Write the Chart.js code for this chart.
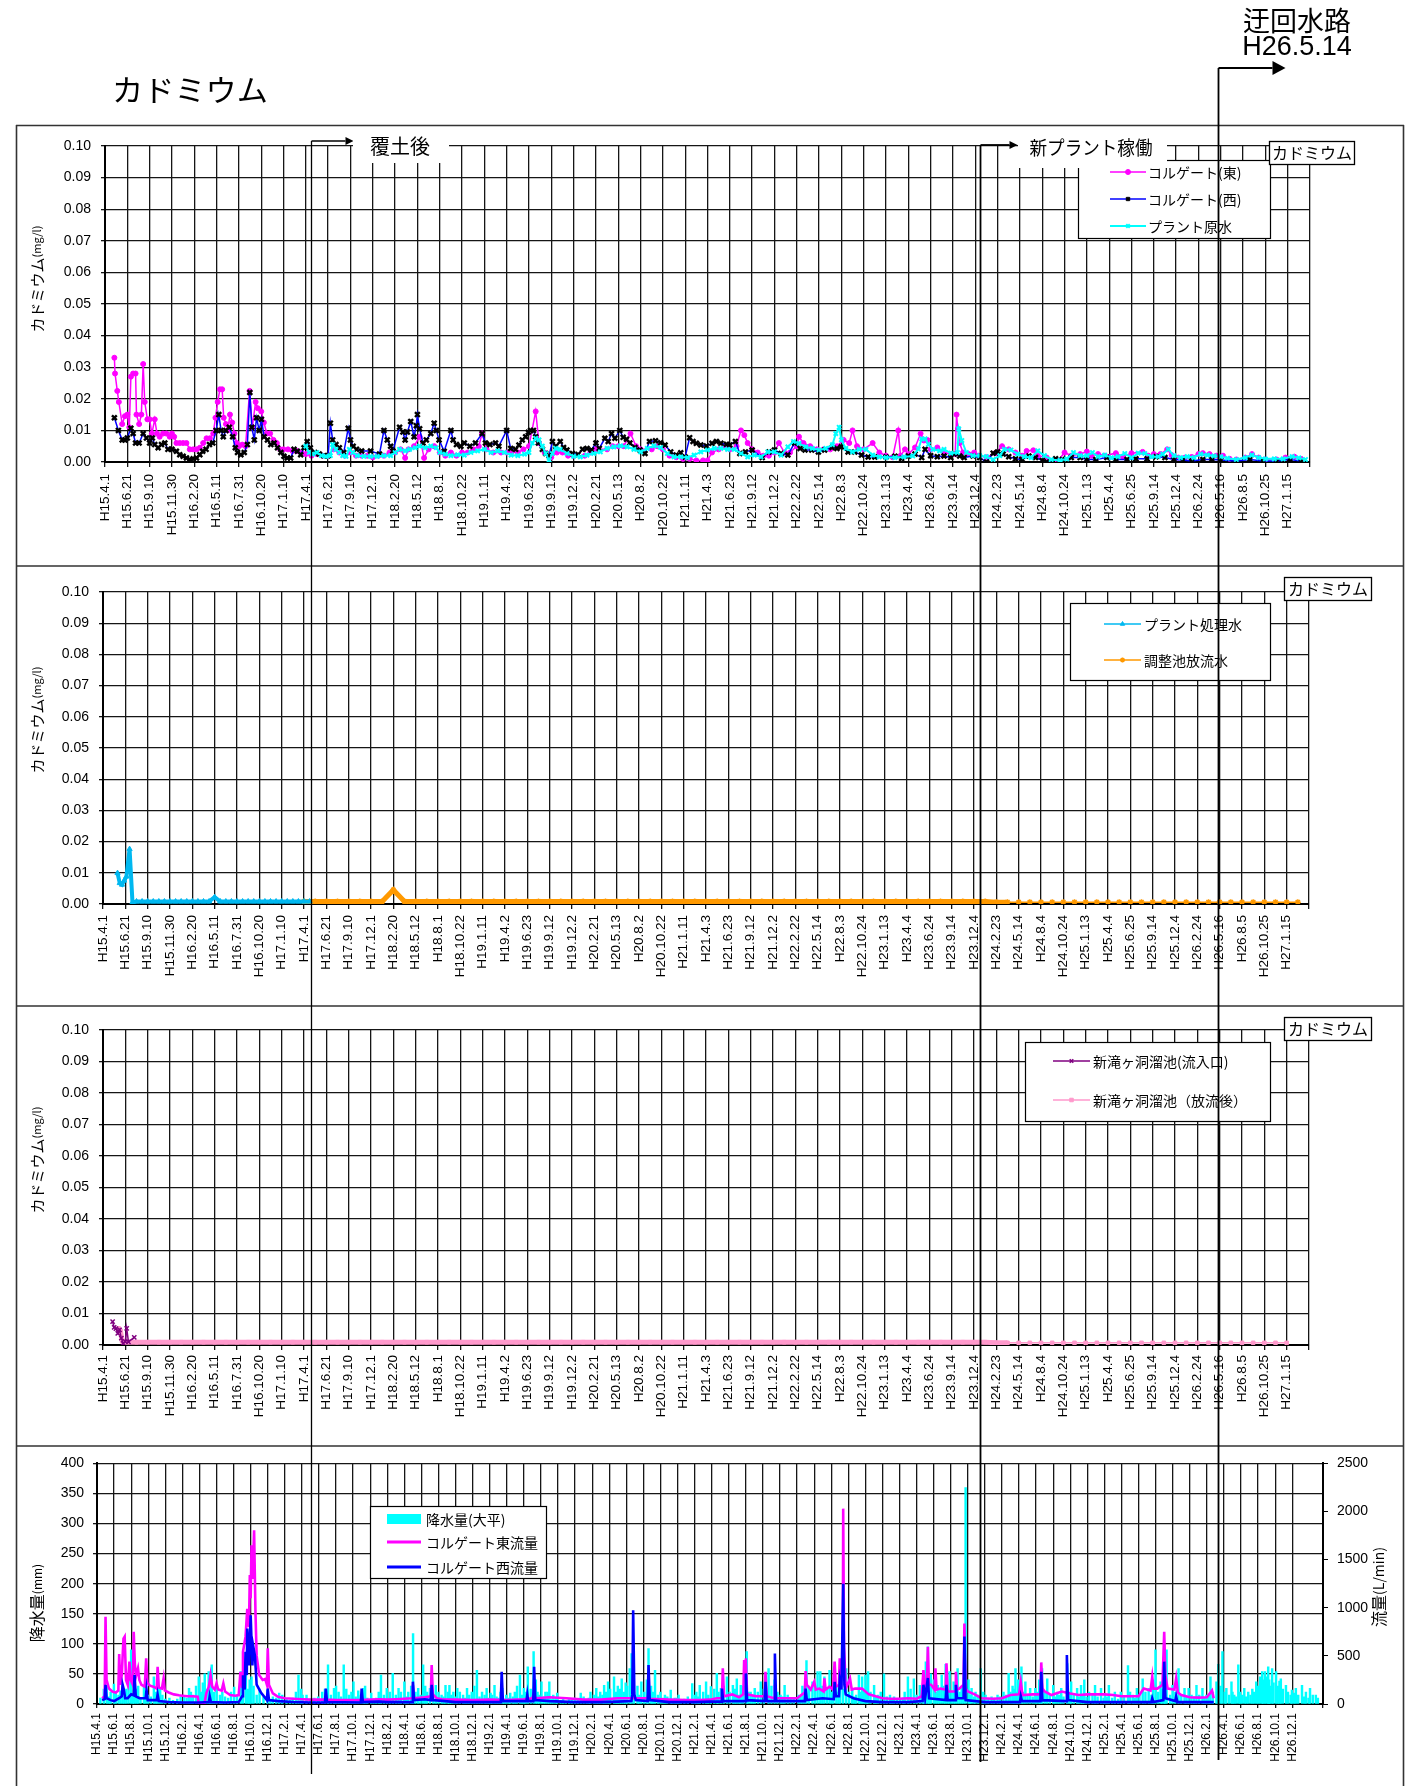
<!DOCTYPE html>
<html lang="ja">
<head>
<meta charset="utf-8">
<title>カドミウム</title>
<script src="https://cdn.jsdelivr.net/npm/chart.js@4.4.1/dist/chart.umd.min.js"></script>
<style>
html,body{margin:0;padding:0;background:#fff;}
#page{position:relative;width:1421px;height:1786px;overflow:hidden;background:#fff;}
#page canvas{position:absolute;left:0;}
#overlay{position:absolute;left:0;top:0;pointer-events:none;}
#overlay text{font-family:'Noto Sans CJK JP',sans-serif;fill:#000;}
</style>
</head>
<body>
<div id="page">
<canvas id="cd1" width="1421" height="440" style="top:126px"></canvas>
<canvas id="cd2" width="1421" height="440" style="top:566px"></canvas>
<canvas id="cd3" width="1421" height="440" style="top:1006px"></canvas>
<canvas id="flow" width="1421" height="340" style="top:1446px"></canvas>
<svg id="overlay" width="1421" height="1786" viewBox="0 0 1421 1786">
  <path d="M16 125.5H1404M16 566H1404M16 1006H1404M16 1446H1404M16.5 125V1786M1403.5 125V1786" stroke="#333" stroke-width="1.6" fill="none"/>
  <text x="112" y="101" font-size="30" textLength="156" lengthAdjust="spacingAndGlyphs">カドミウム</text>
  <text x="1297" y="31" font-size="27" text-anchor="middle">迂回水路</text>
  <text x="1297" y="55" font-size="27" text-anchor="middle" style="font-family:'Liberation Sans',sans-serif">H26.5.14</text>
  <g id="marks"></g>
  <rect x="353" y="131" width="96" height="32" fill="#fff"/>
  <text x="400" y="154" font-size="20" text-anchor="middle">覆土後</text>
  <rect x="1018" y="131" width="149" height="37" fill="#fff"/>
  <text x="1091" y="155" font-size="19" text-anchor="middle" textLength="123" lengthAdjust="spacingAndGlyphs">新プラント稼働</text>
  <rect x="1269.5" y="141.5" width="85" height="23" fill="#fff" stroke="#000" stroke-width="1.3"/>
  <text x="1312" y="159" font-size="16" text-anchor="middle">カドミウム</text>
  <rect x="1284.5" y="577.5" width="87" height="23" fill="#fff" stroke="#000" stroke-width="1.3"/>
  <text x="1328" y="595" font-size="16" text-anchor="middle">カドミウム</text>
  <rect x="1284.5" y="1017.5" width="87" height="23" fill="#fff" stroke="#000" stroke-width="1.3"/>
  <text x="1328" y="1035" font-size="16" text-anchor="middle">カドミウム</text>
  <text transform="translate(36 279) rotate(-90)" text-anchor="middle" dominant-baseline="central" font-size="15">カドミウム<tspan font-size="11">(mg/l)</tspan></text>
  <text transform="translate(36 720) rotate(-90)" text-anchor="middle" dominant-baseline="central" font-size="15">カドミウム<tspan font-size="11">(mg/l)</tspan></text>
  <text transform="translate(36 1160) rotate(-90)" text-anchor="middle" dominant-baseline="central" font-size="15">カドミウム<tspan font-size="11">(mg/l)</tspan></text>
  <text transform="translate(36 1603) rotate(-90)" text-anchor="middle" dominant-baseline="central" font-size="16">降水量<tspan font-size="12">(mm)</tspan></text>
  <text transform="translate(1378 1587) rotate(-90)" text-anchor="middle" dominant-baseline="central" font-size="16">流量<tspan font-size="14">(L/min)</tspan></text>
</svg>
</div>
<script>
// ---- axis labels -------------------------------------------------------
const cdDates = ['H15.4.1','H15.6.21','H15.9.10','H15.11.30','H16.2.20','H16.5.11','H16.7.31','H16.10.20','H17.1.10','H17.4.1',
  'H17.6.21','H17.9.10','H17.12.1','H18.2.20','H18.5.12','H18.8.1','H18.10.22','H19.1.11','H19.4.2','H19.6.23',
  'H19.9.12','H19.12.2','H20.2.21','H20.5.13','H20.8.2','H20.10.22','H21.1.11','H21.4.3','H21.6.23','H21.9.12',
  'H21.12.2','H22.2.22','H22.5.14','H22.8.3','H22.10.24','H23.1.13','H23.4.4','H23.6.24','H23.9.14','H23.12.4',
  'H24.2.23','H24.5.14','H24.8.4','H24.10.24','H25.1.13','H25.4.4','H25.6.25','H25.9.14','H25.12.4','H26.2.24',
  'H26.5.16','H26.8.5','H26.10.25','H27.1.15'];
const flowDates = ['H15.4.1','H15.6.1','H15.8.1','H15.10.1','H15.12.1',
  'H16.2.1','H16.4.1','H16.6.1','H16.8.1','H16.10.1','H16.12.1',
  'H17.2.1','H17.4.1','H17.6.1','H17.8.1','H17.10.1','H17.12.1',
  'H18.2.1','H18.4.1','H18.6.1','H18.8.1','H18.10.1','H18.12.1',
  'H19.2.1','H19.4.1','H19.6.1','H19.8.1','H19.10.1','H19.12.1',
  'H20.2.1','H20.4.1','H20.6.1','H20.8.1','H20.10.1','H20.12.1',
  'H21.2.1','H21.4.1','H21.6.1','H21.8.1','H21.10.1','H21.12.1',
  'H22.2.1','H22.4.1','H22.6.1','H22.8.1','H22.10.1','H22.12.1',
  'H23.2.1','H23.4.1','H23.6.1','H23.8.1','H23.10.1','H23.12.1',
  'H24.2.1','H24.4.1','H24.6.1','H24.8.1','H24.10.1','H24.12.1',
  'H25.2.1','H25.4.1','H25.6.1','H25.8.1','H25.10.1','H25.12.1',
  'H26.2.1','H26.4.1','H26.6.1','H26.8.1','H26.10.1','H26.12.1',
  'H27.2.1'];
const cdTicks = [0,0.01,0.02,0.03,0.04,0.05,0.06,0.07,0.08,0.09,0.10];

// event dates, in positions along the cadmium date axis
const eventFudo = 9.22;   // 覆土後
const eventPlant = 39.22; // 新プラント稼働
const eventBypass = 49.89;// 迂回水路 H26.5.14

// ---- cadmium: corrugate east / west, plant raw water ([axis position, mg/l]) ----
const eastCd = [[0.42,0.033],[0.45,0.028],[0.55,0.0225],[0.62,0.019],[0.77,0.012],[0.89,0.0145],[1.0,0.015],[1.09,0.011],
  [1.16,0.027],[1.26,0.028],[1.37,0.028],[1.41,0.015],[1.53,0.012],[1.63,0.015],[1.71,0.031],[1.78,0.019],[1.9,0.0135],
  [2.0,0.0135],[2.1,0.009],[2.23,0.0135],[2.33,0.009],[2.45,0.008],[2.6,0.009],[2.75,0.009],[2.9,0.008],[3.0,0.009],
  [3.1,0.008],[3.2,0.006],[3.35,0.006],[3.5,0.006],[3.65,0.006],[3.8,0.004],[3.95,0.004],[4.1,0.004],[4.25,0.0045],
  [4.4,0.006],[4.55,0.0075],[4.7,0.0075],[4.85,0.009],[4.95,0.014],[5.05,0.019],[5.15,0.023],[5.25,0.023],[5.32,0.014],
  [5.42,0.012],[5.5,0.010],[5.6,0.015],[5.7,0.0125],[5.8,0.009],[5.9,0.006],[6.0,0.005],[6.15,0.0055],[6.3,0.005],
  [6.48,0.0225],[6.6,0.011],[6.75,0.019],[6.85,0.017],[7.0,0.016],[7.12,0.0125],[7.25,0.009],[7.4,0.009],[7.55,0.007],
  [7.7,0.006],[7.85,0.004],[8.0,0.004],[8.2,0.004],[8.4,0.0035],[8.6,0.0035],[8.8,0.003],[9.0,0.0025],
  [9.25,0.002],[9.5,0.0025],[9.75,0.002],[10.0,0.002],[10.25,0.004],[10.5,0.003],[10.75,0.002],[11.0,0.003],[11.25,0.002],
  [11.5,0.002],[11.75,0.002],[12.0,0.0015],[12.25,0.002],[12.5,0.002],[12.75,0.003],[13.0,0.003],[13.25,0.004],[13.45,0.0013],
  [13.6,0.004],[13.85,0.005],[14.1,0.008],[14.3,0.0013],[14.5,0.004],[14.75,0.005],[15.0,0.003],[15.25,0.002],[15.5,0.003],
  [15.75,0.002],[16.0,0.003],[16.25,0.003],[16.5,0.004],[16.75,0.005],[16.9,0.009],[17.1,0.004],[17.4,0.003],[17.75,0.003],
  [18.0,0.003],[18.2,0.003],[18.5,0.003],[18.75,0.004],[19.0,0.005],[19.3,0.016],[19.45,0.006],[19.7,0.003],[20.0,0.0015],
  [20.25,0.003],[20.5,0.003],[20.75,0.002],[21.0,0.002],[21.5,0.002],[21.75,0.003],[22.0,0.004],[22.5,0.004],[22.75,0.005],
  [23.0,0.005],[23.25,0.005],[23.55,0.009],[23.8,0.005],[24.0,0.004],[24.5,0.004],[24.75,0.005],[25.0,0.004],[25.3,0.002],
  [25.6,0.0015],[25.9,0.001],[26.2,0.001],[26.5,0.0005],[26.8,0.0005],[27.0,0.0005],[27.2,0.003],[27.5,0.004],[27.75,0.005],
  [28.0,0.004],[28.3,0.005],[28.5,0.010],[28.65,0.0085],[28.8,0.006],[29.0,0.004],[29.25,0.003],[29.5,0.002],[29.75,0.002],
  [30.0,0.003],[30.2,0.006],[30.45,0.003],[30.7,0.003],[31.0,0.005],[31.1,0.008],[31.3,0.006],[31.6,0.005],[31.9,0.004],
  [32.2,0.004],[32.5,0.004],[32.8,0.005],[33.1,0.007],[33.35,0.006],[33.5,0.010],[33.7,0.005],[34.0,0.004],[34.4,0.006],
  [34.7,0.003],[35.0,0.002],[35.3,0.0015],[35.55,0.010],[35.65,0.002],[35.85,0.004],[36.0,0.0025],[36.3,0.0046],[36.55,0.009],
  [36.7,0.0068],[36.85,0.007],[37.0,0.004],[37.3,0.0046],[37.6,0.003],[37.9,0.0025],[38.1,0.0025],[38.16,0.015],[38.22,0.0105],
  [38.3,0.006],[38.45,0.003],[38.7,0.0025],[38.95,0.003],[39.15,0.002],[39.5,0.0015],[39.9,0.0028],[40.2,0.005],[40.5,0.004],
  [40.8,0.003],[41.1,0.002],[41.3,0.0035],[41.6,0.0037],[41.8,0.002],[42.2,0.0014],[42.7,0.0003],[43.0,0.003],[43.3,0.002],
  [43.7,0.0025],[44.0,0.0033],[44.2,0.002],[44.5,0.0025],[44.8,0.002],[45.3,0.0028],[45.6,0.0017],[46.0,0.0028],[46.5,0.0032],
  [46.75,0.002],[47.0,0.0025],[47.3,0.0025],[47.6,0.004],[47.8,0.0022],[48.1,0.0014],[48.4,0.0014],[48.7,0.0016],[49.0,0.0025],
  [49.2,0.0028],[49.5,0.0025],[49.8,0.002],[50.1,0.002],[50.4,0.001],[50.7,0.0008],[51.1,0.0014],[51.4,0.0025],[51.7,0.0014],
  [52.0,0.0008],[52.5,0.0008],[52.9,0.0014],[53.3,0.0017],[53.6,0.001]];
const westCd = [[0.42,0.014],[0.6,0.010],[0.77,0.007],[0.89,0.007],[1.0,0.0076],[1.16,0.0107],[1.26,0.009],[1.37,0.006],
  [1.53,0.006],[1.71,0.009],[1.86,0.0076],[2.0,0.006],[2.12,0.0076],[2.23,0.0055],[2.38,0.0045],[2.53,0.0055],[2.68,0.006],
  [2.82,0.004],[3.0,0.004],[3.2,0.0034],[3.35,0.0023],[3.5,0.0018],[3.65,0.0013],[3.8,0.0008],[3.95,0.001],[4.1,0.0013],
  [4.25,0.0023],[4.38,0.0034],[4.53,0.004],[4.68,0.0055],[4.83,0.006],[4.98,0.010],[5.1,0.015],[5.2,0.010],[5.3,0.008],
  [5.42,0.010],[5.57,0.011],[5.72,0.008],[5.84,0.0045],[5.94,0.003],[6.09,0.0023],[6.24,0.003],[6.38,0.0055],[6.49,0.022],
  [6.58,0.011],[6.69,0.007],[6.79,0.014],[6.91,0.010],[7.01,0.0135],[7.13,0.008],[7.28,0.007],[7.43,0.0055],[7.58,0.006],
  [7.73,0.0045],[7.88,0.003],[8.02,0.0018],[8.17,0.0013],[8.32,0.0013],[8.47,0.004],[8.62,0.0034],[8.77,0.0023],[8.92,0.0045],
  [9.06,0.0065],[9.2,0.0045],[9.4,0.003],[9.6,0.0025],[9.8,0.002],[10.0,0.002],[10.1,0.0123],[10.2,0.007],[10.35,0.0055],
  [10.5,0.0045],[10.7,0.003],[10.9,0.0107],[11.0,0.007],[11.12,0.005],[11.27,0.004],[11.5,0.0035],[11.9,0.0035],[12.3,0.0025],
  [12.5,0.010],[12.65,0.007],[12.8,0.005],[12.9,0.0035],[13.2,0.011],[13.35,0.0095],[13.45,0.007],[13.55,0.0095],[13.7,0.0128],
  [13.85,0.008],[13.95,0.0115],[14.0,0.015],[14.1,0.0105],[14.25,0.006],[14.4,0.007],[14.6,0.009],[14.75,0.0123],[14.85,0.010],
  [14.97,0.007],[15.2,0.0034],[15.5,0.010],[15.6,0.007],[15.75,0.0055],[15.95,0.005],[16.1,0.006],[16.35,0.005],[16.6,0.006],
  [16.9,0.009],[17.05,0.006],[17.25,0.0055],[17.5,0.006],[17.65,0.005],[18.0,0.010],[18.18,0.0043],[18.4,0.004],[18.55,0.0054],
  [18.7,0.007],[18.85,0.008],[18.97,0.0094],[19.07,0.010],[19.2,0.010],[19.3,0.008],[19.42,0.006],[19.6,0.004],[19.75,0.0027],
  [19.9,0.002],[20.05,0.0065],[20.2,0.005],[20.4,0.0065],[20.55,0.0046],[20.7,0.0038],[20.95,0.0027],[21.2,0.0024],[21.4,0.004],
  [21.6,0.0043],[21.8,0.0038],[22.0,0.006],[22.15,0.0043],[22.4,0.0075],[22.55,0.0065],[22.7,0.009],[22.85,0.0075],[23.07,0.010],
  [23.22,0.0078],[23.37,0.0072],[23.52,0.006],[23.75,0.0046],[23.97,0.0038],[24.2,0.0027],[24.4,0.0065],[24.67,0.0067],
  [24.9,0.0061],[25.1,0.0054],[25.35,0.0032],[25.6,0.0022],[25.8,0.0029],[26.0,0.0016],[26.2,0.0077],[26.35,0.0065],
  [26.5,0.0059],[26.7,0.0054],[26.95,0.0051],[27.2,0.0059],[27.4,0.0065],[27.6,0.0059],[27.85,0.0056],[28.0,0.0054],
  [28.25,0.0065],[28.45,0.0027],[28.7,0.0032],[29.0,0.0038],[29.45,0.0014],[29.75,0.0032],[30.0,0.0038],[30.3,0.0027],
  [30.6,0.0022],[30.9,0.006],[31.15,0.0043],[31.37,0.0038],[31.67,0.0038],[31.97,0.0032],[32.25,0.0038],[32.58,0.0046],
  [32.8,0.0043],[33.0,0.0048],[33.3,0.0032],[33.6,0.0032],[33.9,0.0022],[34.2,0.0016],[34.5,0.0016],[35.0,0.0016],[35.4,0.0018],
  [35.7,0.0011],[36.0,0.0019],[36.3,0.0025],[36.6,0.0014],[36.75,0.004],[37.0,0.002],[37.3,0.0017],[37.6,0.0019],[37.9,0.0014],
  [38.05,0.0025],[38.3,0.0019],[38.5,0.0014],[38.9,0.0019],[39.2,0.0014],[39.5,0.0],[39.8,0.0028],[40.0,0.0032],[40.25,0.0025],
  [40.5,0.0017],[40.8,0.001],[41.1,0.0008],[41.4,0.0019],[41.7,0.0014],[42.0,0.0005],[42.2,0.0],[42.6,0.001],[42.9,0.0008],
  [43.3,0.0014],[43.7,0.0014],[44.0,0.0008],[44.4,0.0008],[44.9,0.0014],[45.3,0.0008],[45.8,0.0008],[46.2,0.001],[46.7,0.001],
  [47.1,0.0017],[47.5,0.0014],[47.9,0.0008],[48.3,0.0006],[48.7,0.0003],[49.2,0.0008],[49.6,0.0008],[50.0,0.0006],[50.7,0.0003],
  [51.3,0.0008],[51.9,0.0003],[52.5,0.0003],[53.1,0.0008],[53.6,0.0003]];
const rawCd = [[9.0,0.005],[9.15,0.003],[9.3,0.0025],[9.5,0.003],[9.7,0.002],[9.9,0.0018],[10.1,0.002],[10.2,0.0055],
  [10.35,0.004],[10.5,0.003],[10.65,0.002],[10.8,0.0018],[10.95,0.004],[11.1,0.003],[11.3,0.002],[11.6,0.0018],[11.9,0.0018],
  [12.2,0.0018],[12.5,0.002],[12.8,0.002],[13.0,0.003],[13.2,0.004],[13.45,0.0035],[13.65,0.004],[13.9,0.0045],[14.1,0.005],
  [14.35,0.0045],[14.6,0.005],[14.85,0.0045],[15.0,0.003],[15.25,0.0025],[15.5,0.002],[15.8,0.0023],[16.1,0.0022],[16.4,0.003],
  [16.7,0.0035],[17.0,0.004],[17.3,0.003],[17.6,0.0035],[17.9,0.003],[18.2,0.0022],[18.5,0.002],[18.8,0.0025],[19.0,0.003],
  [19.15,0.006],[19.3,0.0075],[19.45,0.007],[19.6,0.005],[19.75,0.0027],[19.9,0.0005],[20.05,0.0027],[20.2,0.0043],[20.4,0.004],
  [20.7,0.0027],[21.0,0.0018],[21.3,0.0016],[21.6,0.0022],[21.9,0.0027],[22.2,0.0032],[22.5,0.0043],[22.8,0.0048],[23.1,0.0051],
  [23.4,0.0048],[23.7,0.004],[24.0,0.0032],[24.3,0.0043],[24.6,0.0051],[24.9,0.0046],[25.2,0.0027],[25.5,0.0016],[25.8,0.0016],
  [26.1,0.0014],[26.4,0.0022],[26.7,0.0032],[27.0,0.0038],[27.3,0.0043],[27.6,0.0043],[27.9,0.004],[28.2,0.004],[28.5,0.0027],
  [28.8,0.0016],[29.1,0.0022],[29.4,0.0016],[29.7,0.0032],[30.0,0.0032],[30.3,0.0022],[30.6,0.0048],[30.85,0.0065],[31.1,0.0059],
  [31.4,0.0048],[31.7,0.0043],[32.0,0.0038],[32.3,0.0043],[32.6,0.0055],[32.75,0.009],[32.9,0.011],[33.0,0.007],[33.2,0.0043],
  [33.5,0.0032],[33.8,0.004],[34.1,0.004],[34.4,0.0022],[34.7,0.0016],[35.0,0.0014],[35.4,0.0014],[35.8,0.0016],[36.2,0.0019],
  [36.45,0.0041],[36.6,0.0073],[36.75,0.0073],[36.9,0.0056],[37.1,0.004],[37.4,0.0035],[37.6,0.004],[37.9,0.0028],[38.2,0.003],
  [38.26,0.0105],[38.4,0.0068],[38.6,0.003],[38.9,0.002],[39.2,0.002],[39.5,0.0017],[39.8,0.0008],[40.1,0.002],[40.3,0.004],
  [40.6,0.0038],[40.9,0.0025],[41.2,0.0017],[41.5,0.0014],[41.8,0.0035],[42.1,0.002],[42.4,0.0008],[42.8,0.0005],[43.1,0.001],
  [43.4,0.003],[43.7,0.002],[44.0,0.002],[44.25,0.003],[44.5,0.0017],[44.8,0.0022],[45.1,0.0014],[45.4,0.0017],[45.7,0.0027],
  [46.0,0.0014],[46.3,0.0028],[46.6,0.0027],[46.9,0.0017],[47.2,0.0017],[47.4,0.0025],[47.65,0.004],[47.9,0.002],[48.2,0.0014],
  [48.5,0.0017],[48.8,0.0014],[49.1,0.0025],[49.4,0.0022],[49.7,0.0019],[50.0,0.0017],[50.3,0.0012],[50.7,0.0008],[51.1,0.0014],
  [51.4,0.0022],[51.7,0.0014],[52.0,0.001],[52.4,0.001],[52.8,0.001],[53.2,0.0017],[53.5,0.0013],[53.8,0.0008]];

// ---- cadmium: plant treated water, adjustment pond outflow ----
const treatedFirst = [[0.65,0.0099],[0.75,0.0067],[0.85,0.0062],[0.95,0.0075],[1.05,0.0088],[1.19,0.0176],[1.32,0.0005]];
// later results every quarter interval from 1.5 on
const treatedStart = 1.5;
const treatedCd = [0.0008,0.0008,0.0008,0.0008,0.0008,0.0008,0.0008,0.0008,0.0008,0.0008,0.0008,0.0008,0.0008,0.0008,0.0022,0.0008,
  0.0008,0.0008,0.0008,0.0008,0.0008,0.0008,0.0008,0.0008,0.0008,0.0008,0.0008,0.0008,0.0008,0.0008,0.0008,0.0008];
const outflowStart = 9.0;
const outflowCd = [0.0008,0.0008,0.0008,0.0008,0.0008,0.0008,0.0008,0.0008,0.0045,0.0008,0.0008,0.0008,0.0008,0.0008,0.0008,
  0.0008,0.0008,0.0008,0.0008,0.0008,0.0008,0.0008,0.0008,0.0008,0.0008,0.0008,0.0008,0.0008,0.0008,0.0008,0.0008,0.0008,
  0.0008,0.0008,0.0008,0.0008,0.0008,0.0008,0.0008,0.0008,0.0008,0.0008,0.0008,0.0008,0.0008,0.0008,0.0008,0.0008,0.0008,
  0.0008,0.0008,0.0008,0.0008,0.0008,0.0008,0.0008,0.0008,0.0008,0.0008,0.0008,0.0008,0.0008,0.0006,0.0006,0.0006,0.0006,
  0.0006,0.0006,0.0006,0.0006,0.0006,0.0006,0.0006,0.0006,0.0006,0.0006,0.0006,0.0006,0.0006,0.0006,0.0006,0.0006,0.0006,
  0.0006,0.0006,0.0006,0.0006,0.0006,0.0006,0.0006];

// ---- cadmium: 新滝ヶ洞溜池 inlet / after release ----
const inletCd = [[0.43,0.0074],[0.5,0.0056],[0.58,0.0052],[0.66,0.0037],[0.74,0.0048],[0.82,0.0022],[0.9,0.0005],[1.0,0.0011],
  [1.06,0.0053],[1.14,0.001],[1.4,0.0024]];
const releaseFirst = [[0.7,0.0053],[0.78,0.0045],[0.86,0.0012]];
const releaseStart = 1.0;
const releaseCd = [0.0009,0.0009,0.0009,0.0009,0.0009,0.0009,0.0009,0.0009,0.0009,0.0009,0.0009,0.0009,0.0009,0.0009,0.0009,
  0.0009,0.0009,0.0009,0.0009,0.0009,0.0009,0.0009,0.0009,0.0009,0.0009,0.0009,0.0009,0.0009,0.0009,0.0009,0.0009,0.0009,
  0.0009,0.0009,0.0009,0.0009,0.0009,0.0009,0.0009,0.0009,0.0009,0.0009,0.0009,0.0009,0.0009,0.0009,0.0009,0.0009,0.0009,
  0.0009,0.0009,0.0009,0.0009,0.0009,0.0009,0.0009,0.0009,0.0009,0.0009,0.0009,0.0009,0.0009,0.0009,0.0009,0.0009,0.0009,
  0.0009,0.0009,0.0009,0.0009,0.0009,0.0009,0.0009,0.0009,0.0009,0.0009,0.0009,0.0009,0.0007,0.0007,0.0007,0.0007,0.0007,
  0.0007,0.0007,0.0007,0.0007,0.0007,0.0007,0.0007,0.0007,0.0007,0.0007,0.0007,0.0007,0.0007,0.0007,0.0007,0.0007,0.0007,
  0.0007,0.0007,0.0007,0.0007,0.0007];

// ---- rainfall (mm) and corrugate flows (L/min), positions along the bimonthly axis ----
const rainMm = [[0.2,10],[0.4,25],[0.57,31],[0.7,12],[0.8,20],[0.99,33],[1.1,18],[1.26,15],[1.37,22],[1.49,31],[1.6,12],[1.72,25],
  [1.85,40],[2.0,90],[2.1,15],[2.18,20],[2.3,25],[2.41,30],[2.55,10],[2.75,28],[2.85,20],[2.98,15],[3.15,12],[3.33,45],[3.45,20],
  [3.56,37],[3.7,25],[3.83,15],[4.0,8],[4.24,10],[4.45,6],[4.7,8],[4.9,12],[5.1,12],[5.25,10],[5.39,26],[5.5,20],[5.62,15],
  [5.8,30],[5.96,45],[6.1,20],[6.2,35],[6.31,50],[6.42,25],[6.54,54],[6.62,40],[6.72,65],[6.85,20],[7.0,31],[7.2,15],[7.34,20],
  [7.5,12],[7.68,10],[7.85,20],[8.03,28],[8.2,15],[8.42,54],[8.55,30],[8.72,55],[8.85,25],[8.94,40],[9.05,45],[9.17,30],[9.35,15],
  [9.52,25],[9.75,12],[9.98,23],[10.15,8],[10.3,12],[10.5,10],[10.67,18],[10.85,15],[11.1,8],[11.3,6],[11.47,10],[11.65,20],
  [11.8,48],[11.95,25],[12.04,15],[12.27,15],[12.5,8],[12.73,10],[12.95,12],[13.19,20],[13.35,25],[13.53,65],[13.7,15],[13.88,26],
  [14.0,30],[14.15,20],[14.3,12],[14.45,65],[14.6,25],[14.75,15],[14.9,20],[15.02,37],[15.15,12],[15.3,22],[15.45,15],[15.6,26],
  [15.7,30],[15.83,10],[16.06,18],[16.2,8],[16.35,10],[16.5,20],[16.63,48],[16.8,15],[16.97,26],[17.15,20],[17.32,51],[17.5,15],
  [17.66,26],[17.8,20],[18.0,37],[18.1,12],[18.23,20],[18.4,30],[18.51,117],[18.65,20],[18.81,26],[18.95,15],[19.1,65],[19.22,30],
  [19.33,20],[19.5,26],[19.7,15],[19.84,31],[20.0,20],[20.18,15],[20.3,12],[20.41,31],[20.55,20],[20.64,31],[20.75,15],[20.87,20],
  [21.0,12],[21.1,26],[21.25,20],[21.44,15],[21.55,10],[21.67,26],[21.8,15],[21.95,20],[22.1,30],[22.25,56],[22.4,12],[22.55,20],
  [22.7,15],[22.82,26],[22.95,10],[23.05,18],[23.15,15],[23.28,31],[23.4,12],[23.51,10],[23.63,20],[23.74,26],[23.85,8],[23.97,15],
  [24.1,10],[24.2,18],[24.35,12],[24.47,20],[24.6,30],[24.77,48],[24.9,15],[25.0,26],[25.1,20],[25.23,62],[25.4,25],[25.57,87],
  [25.7,40],[25.8,20],[25.9,15],[26.03,37],[26.15,12],[26.26,20],[26.38,20],[26.49,37],[26.6,8],[26.72,15],[26.85,10],[26.95,18],
  [27.15,6],[27.3,10],[27.45,5],[27.64,8],[27.8,6],[27.98,10],[28.15,8],[28.33,18],[28.5,12],[28.67,8],[28.8,10],[28.9,20],
  [29.1,15],[29.24,26],[29.35,12],[29.47,20],[29.6,15],[29.7,31],[29.8,20],[29.93,37],[30.05,25],[30.28,45],[30.4,20],[30.5,30],
  [30.62,25],[30.73,42],[30.85,20],[30.96,35],[31.05,30],[31.2,59],[31.31,84],[31.45,20],[31.65,30],[31.75,15],[31.88,37],
  [32.05,20],[32.2,40],[32.3,92],[32.45,30],[32.55,20],[32.68,56],[32.85,15],[33.0,20],[33.13,10],[33.26,15],[33.4,12],[33.6,23],
  [33.7,8],[33.83,10],[33.95,10],[34.06,15],[34.2,6],[34.4,8],[34.6,12],[34.86,34],[35.0,15],[35.1,20],[35.2,12],[35.3,31],
  [35.5,20],[35.67,37],[35.8,15],[35.95,29],[36.15,25],[36.3,51],[36.4,20],[36.54,26],[36.7,30],[36.89,45],[37.05,20],[37.24,31],
  [37.35,25],[37.47,42],[37.6,15],[37.7,31],[37.85,30],[38.05,87],[38.15,20],[38.28,20],[38.4,15],[38.52,26],[38.7,20],[38.87,37],
  [39.05,25],[39.33,59],[39.5,30],[39.68,40],[39.85,20],[40.03,15],[40.15,12],[40.27,31],[40.45,15],[40.62,10],[40.8,8],[41.08,15],
  [41.2,12],[41.31,30],[41.43,25],[41.55,72],[41.7,30],[41.9,37],[42.05,30],[42.2,54],[42.36,54],[42.48,30],[42.6,45],[42.75,25],
  [42.9,56],[43.02,20],[43.13,25],[43.3,31],[43.42,20],[43.53,31],[43.7,25],[43.88,59],[44.05,20],[44.23,26],[44.35,12],[44.46,15],
  [44.62,48],[44.7,20],[44.81,45],[44.9,25],[45.0,48],[45.08,30],[45.16,54],[45.3,20],[45.51,31],[45.62,12],[45.74,15],[45.9,20],
  [46.09,50],[46.25,12],[46.44,15],[46.55,8],[46.68,12],[46.85,6],[47.03,8],[47.2,10],[47.3,20],[47.49,45],[47.65,25],[47.84,42],
  [48.0,15],[48.19,31],[48.35,30],[48.45,20],[48.54,70],[48.66,95],[48.75,30],[48.83,50],[49.0,40],[49.12,20],[49.24,31],[49.35,25],
  [49.47,48],[49.6,30],[49.7,66],[49.82,25],[49.93,54],[50.05,20],[50.17,37],[50.28,25],[50.4,59],[50.52,20],[50.64,30],[50.75,20],
  [50.87,360],[51.04,40],[51.12,15],[51.22,26],[51.35,12],[51.45,20],[51.6,15],[51.76,59],[51.9,20],[52.04,15],[52.2,8],[52.39,12],
  [52.55,10],[52.74,15],[52.9,12],[53.09,20],[53.25,15],[53.39,51],[53.5,20],[53.62,30],[53.7,25],[53.79,59],[53.87,20],[53.95,40],
  [54.05,30],[54.14,62],[54.25,20],[54.37,37],[54.5,15],[54.65,26],[54.8,12],[54.95,26],[55.05,20],[55.18,40],[55.25,25],[55.35,59],
  [55.5,20],[55.65,42],[55.8,15],[56.0,31],[56.1,12],[56.23,20],[56.35,15],[56.47,26],[56.6,12],[56.82,67],[56.95,20],[57.05,37],
  [57.2,15],[57.4,26],[57.5,12],[57.63,31],[57.72,15],[57.82,40],[57.95,12],[58.1,20],[58.3,15],[58.45,31],[58.6,12],[58.8,26],
  [58.95,10],[59.03,15],[59.15,12],[59.26,31],[59.45,10],[59.61,20],[59.8,8],[59.96,20],[60.15,12],[60.38,64],[60.5,20],[60.66,15],
  [60.78,10],[60.9,26],[61.05,15],[61.24,42],[61.4,20],[61.59,26],[61.75,15],[61.85,40],[61.99,90],[62.15,20],[62.29,37],[62.38,25],
  [62.48,50],[62.55,30],[62.64,90],[62.85,15],[62.99,31],[63.15,20],[63.34,59],[63.5,15],[63.69,26],[63.8,12],[63.93,26],[64.1,15],
  [64.25,12],[64.39,31],[64.55,15],[64.74,26],[64.85,10],[64.97,15],[65.1,15],[65.21,45],[65.35,20],[65.56,37],[65.67,66],[65.8,30],
  [65.91,87],[66.05,20],[66.14,26],[66.3,15],[66.44,37],[66.5,20],[66.6,15],[66.7,12],[66.84,65],[66.95,20],[67.05,15],[67.19,26],
  [67.3,12],[67.42,20],[67.55,15],[67.66,25],[67.75,20],[67.89,37],[68.0,30],[68.12,45],[68.24,54],[68.3,40],[68.4,54],[68.5,45],
  [68.59,62],[68.65,40],[68.7,30],[68.82,59],[68.9,35],[69.05,54],[69.15,30],[69.25,38],[69.33,42],[69.45,25],[69.63,31],[69.75,20],
  [69.9,15],[69.98,23],[70.1,18],[70.21,26],[70.35,15],[70.57,31],[70.7,12],[70.8,20],[70.95,10],[71.04,26],[71.2,15],[71.38,15],
  [71.5,10]];
const eastFlow = [[0.3,60],[0.45,80],[0.5,906],[0.56,250],[0.7,160],[0.9,130],[1.1,120],[1.25,140],[1.3,520],[1.36,200],[1.45,300],
  [1.55,680],[1.62,700],[1.7,250],[1.8,200],[1.9,440],[1.97,250],[2.1,200],[2.15,750],[2.22,400],[2.3,300],[2.4,370],[2.48,250],
  [2.6,200],[2.8,180],[2.88,474],[2.95,220],[3.1,190],[3.3,180],[3.5,160],[3.55,387],[3.62,170],[3.8,160],[3.9,266],[3.97,140],
  [4.2,120],[4.5,100],[4.8,90],[5.0,86],[5.3,80],[5.6,80],[5.9,76],[5.95,10],[6.3,10],[6.4,110],[6.55,180],[6.65,300],[6.75,180],
  [6.9,150],[7.0,214],[7.1,150],[7.3,140],[7.4,214],[7.5,130],[7.8,93],[8.1,86],[8.3,93],[8.4,335],[8.5,180],[8.55,543],[8.7,700],
  [8.8,990],[8.9,800],[8.95,1340],[9.0,1100],[9.05,1650],[9.12,1300],[9.2,1805],[9.28,960],[9.35,500],[9.5,300],[9.7,250],[9.85,260],
  [9.95,200],[10.0,578],[10.07,200],[10.3,110],[10.6,75],[11.0,60],[11.5,55],[12.0,50],[12.5,45],[13.0,45],[13.35,45],[13.4,90],
  [13.47,45],[14.0,40],[14.5,40],[15.0,40],[15.5,40],[16.0,45],[16.5,50],[17.0,45],[17.5,50],[18.0,55],[18.45,60],[18.5,200],
  [18.56,60],[19.2,70],[19.55,80],[19.6,405],[19.67,100],[19.9,60],[20.2,50],[21.0,45],[22.0,40],[23.0,45],[24.0,40],[25.0,50],
  [25.5,60],[25.6,120],[25.67,60],[26.5,70],[27.5,60],[28.5,45],[29.5,45],[30.5,60],[31.0,60],[31.35,60],[31.4,150],[31.45,60],
  [32.25,60],[32.3,120],[32.35,55],[33.5,45],[34.5,40],[35.3,40],[35.9,45],[36.3,60],[36.6,60],[36.65,370],[36.72,80],[37.2,100],
  [37.6,70],[37.85,100],[37.9,456],[37.97,300],[38.0,474],[38.07,100],[38.6,80],[39.1,80],[39.15,335],[39.22,80],[39.65,60],
  [39.7,200],[39.75,60],[40.5,60],[41.0,60],[41.3,100],[41.45,120],[41.5,342],[41.57,200],[41.8,150],[42.0,230],[42.1,150],
  [42.3,160],[42.55,130],[42.6,266],[42.67,150],[42.9,180],[43.1,150],[43.2,440],[43.27,180],[43.45,200],[43.5,474],[43.6,300],
  [43.68,600],[43.7,2030],[43.75,600],[43.85,160],[44.1,266],[44.2,150],[44.4,160],[44.8,160],[45.2,100],[45.6,80],[46.0,60],
  [46.5,55],[47.0,55],[47.5,60],[48.0,55],[48.3,80],[48.4,353],[48.5,150],[48.6,200],[48.66,595],[48.72,200],[48.85,200],[49.05,150],
  [49.1,370],[49.17,150],[49.4,160],[49.7,150],[49.75,422],[49.82,130],[50.0,130],[50.25,130],[50.3,335],[50.37,150],[50.5,160],
  [50.75,200],[50.8,837],[50.87,160],[51.0,130],[51.4,100],[51.8,60],[52.5,55],[53.0,60],[53.5,93],[54.0,100],[54.1,230],[54.2,93],
  [54.8,100],[55.25,100],[55.3,432],[55.37,160],[55.5,130],[55.9,93],[56.5,130],[57.0,110],[57.5,93],[58.0,100],[58.5,100],
  [59.0,100],[59.5,93],[60.0,80],[60.5,80],[61.0,80],[61.3,160],[61.7,140],[61.8,283],[61.87,160],[62.1,160],[62.4,200],[62.5,750],
  [62.57,300],[62.7,160],[63.1,150],[63.2,266],[63.3,120],[63.5,93],[64.0,70],[64.5,66],[65.0,70],[65.3,140],[65.4,60]];
const westFlow = [[0.3,40],[0.45,50],[0.5,200],[0.56,60],[0.8,40],[1.0,30],[1.3,60],[1.45,80],[1.5,200],[1.57,150],[1.65,60],
  [1.8,60],[2.0,100],[2.15,90],[2.2,300],[2.27,80],[2.5,60],[2.85,60],[2.9,150],[2.97,40],[3.5,40],[3.55,100],[3.62,30],[4.2,20],
  [5.0,15],[6.0,15],[6.55,20],[6.6,80],[6.67,20],[7.5,15],[8.3,20],[8.5,80],[8.55,300],[8.65,150],[8.7,543],[8.77,300],[8.8,785],
  [8.9,400],[9.0,923],[9.05,650],[9.1,400],[9.15,600],[9.25,500],[9.35,200],[9.6,120],[9.95,40],[10.0,160],[10.07,40],[10.6,30],
  [11.5,20],[12.5,15],[13.35,15],[13.4,160],[13.47,20],[15.45,15],[15.5,160],[15.57,20],[16.5,25],[17.0,20],[18.45,20],[18.5,232],
  [18.57,40],[19.2,50],[19.55,40],[19.6,200],[19.67,40],[21.0,20],[22.5,20],[23.65,20],[23.7,335],[23.77,30],[25.15,30],[25.2,100],
  [25.25,30],[25.55,30],[25.6,387],[25.67,40],[26.5,30],[28.0,20],[29.5,20],[30.5,25],[31.3,30],[31.35,100],[31.4,975],[31.47,100],
  [31.55,40],[32.25,30],[32.3,405],[32.37,40],[33.5,20],[35.0,20],[36.0,25],[36.55,25],[36.6,160],[36.67,30],[37.95,30],[38.0,318],
  [38.07,40],[39.1,30],[39.15,230],[39.22,30],[39.65,30],[39.7,525],[39.77,30],[41.45,30],[41.5,160],[41.57,40],[42.5,60],[43.15,50],
  [43.2,230],[43.27,80],[43.45,80],[43.5,250],[43.6,150],[43.7,1250],[43.77,200],[43.85,100],[44.3,60],[45.0,30],[46.0,20],[47.5,20],
  [48.35,30],[48.4,200],[48.5,60],[48.66,270],[48.73,60],[49.7,40],[49.75,200],[49.82,40],[50.25,40],[50.3,200],[50.37,60],
  [50.75,60],[50.8,700],[50.87,40],[52.0,20],[53.5,20],[54.05,20],[54.1,80],[54.17,30],[55.25,30],[55.3,335],[55.37,40],[56.75,30],
  [56.8,508],[56.87,40],[58.0,20],[59.5,20],[61.0,20],[61.75,20],[61.8,60],[61.87,20],[62.45,40],[62.5,440],[62.57,60],[63.15,30],
  [63.2,80],[63.27,20],[65.0,20],[65.4,20]];

// ---- helpers ----
const pts = arr => arr.map(([x, y]) => ({x, y}));
const sampled = (start, step, vals) => vals.map((y, i) => ({x: start + i * step, y}));

Chart.defaults.font.family = "'Liberation Sans', Arial, sans-serif";
Chart.defaults.color = '#000';

// framed legend drawn inside the plot canvas
const boxLegend = {
  id: 'boxLegend',
  afterDraw(chart, args, o) {
    if (!o || !o.items) return;
    const ctx = chart.ctx, dy = o.offsetY;
    ctx.save();
    ctx.fillStyle = '#fff';
    ctx.fillRect(o.x, o.y - dy, o.w, o.h);
    ctx.strokeStyle = '#000';
    ctx.lineWidth = 1.2;
    ctx.strokeRect(o.x + 0.5, o.y - dy + 0.5, o.w, o.h);
    o.items.forEach(it => {
      const ds = chart.data.datasets[it.ds];
      const y = it.y - dy;
      if (ds.type === 'bar') {
        ctx.fillStyle = ds.backgroundColor;
        ctx.fillRect(o.x1, y - 5, o.x2 - o.x1, 10);
      } else {
        ctx.strokeStyle = ds.borderColor;
        ctx.lineWidth = it.lw || ds.borderWidth;
        ctx.beginPath(); ctx.moveTo(o.x1, y); ctx.lineTo(o.x2, y); ctx.stroke();
        if (ds.pointRadius > 0 && Chart.helpers && Chart.helpers.drawPoint) {
          ctx.fillStyle = ds.pointBackgroundColor || ds.borderColor;
          ctx.strokeStyle = ds.pointBorderColor || ds.borderColor;
          ctx.lineWidth = ds.pointBorderWidth || 1;
          Chart.helpers.drawPoint(ctx, {pointStyle: ds.pointStyle, rotation: 0, radius: 2.5,
            borderWidth: ds.pointBorderWidth || 1}, (o.x1 + o.x2) / 2, y);
        }
      }
      ctx.fillStyle = '#000';
      ctx.font = "14px 'Noto Sans CJK JP', sans-serif";
      ctx.textBaseline = 'middle';
      ctx.fillText(it.label, o.tx, y + 1);
    });
    ctx.restore();
  }
};
Chart.register(boxLegend);

function cdChart(id, area, datasets, legend) {
  return new Chart(document.getElementById(id), {
    type: 'line',
    data: {datasets},
    options: {
      responsive: false, animation: false, events: [],
      layout: {padding: {left: 0, right: 1421 - area.right, top: area.top, bottom: 0}},
      plugins: {legend: {display: false}, tooltip: {enabled: false}, boxLegend: legend},
      elements: {line: {tension: 0}},
      scales: {
        x: {type: 'linear', min: 0, max: 54, offset: false,
          afterFit: s => { s.height = area.h - area.bottom; },
          border: {color: '#000', width: 2},
          grid: {color: '#151515', lineWidth: 1.3, tickLength: 5},
          ticks: {stepSize: 1, autoSkip: false, minRotation: 90, maxRotation: 90, padding: area.lp,
            font: {size: 13.5}, callback: v => (Number.isInteger(v) && cdDates[v]) ? cdDates[v] : ''}},
        y: {min: 0, max: 0.1,
          afterFit: s => { s.width = area.left; },
          afterBuildTicks: s => { s.ticks = cdTicks.map(value => ({value})); },
          border: {color: '#000', width: 2},
          grid: {color: '#151515', lineWidth: 1.3, tickLength: 4},
          ticks: {padding: 10, font: {size: 14}, callback: v => v.toFixed(2)}}
      }
    }
  });
}

const lineDs = (label, data, color, extra) => Object.assign({label, data, borderColor: color, backgroundColor: color,
  pointBackgroundColor: color, pointBorderColor: color, borderWidth: 1.5, pointRadius: 2.5, pointBorderWidth: 1}, extra);

const chart1 = cdChart('cd1', {left: 105, right: 1310, top: 20, bottom: 336, h: 440, lp: 7}, [
  lineDs('コルゲート(東)', pts(eastCd), '#FF00FF', {pointStyle: 'circle', order: 3}),
  lineDs('コルゲート(西)', pts(westCd), '#0000FF', {pointStyle: 'crossRot', pointBackgroundColor: '#000', pointBorderColor: '#000',
    pointBorderWidth: 2.4, pointRadius: 3.4, order: 2}),
  lineDs('プラント原水', pts(rawCd), '#00FFFF', {pointStyle: 'crossRot', pointBorderWidth: 2, pointRadius: 3, borderWidth: 2, order: 1})
], {offsetY: 126, x: 1078, y: 160, w: 192, h: 78, x1: 1110, x2: 1146, tx: 1148,
   items: [{ds: 0, label: 'コルゲート(東)', y: 172}, {ds: 1, label: 'コルゲート(西)', y: 199}, {ds: 2, label: 'プラント原水', y: 226}]});

cdChart('cd2', {left: 103, right: 1309, top: 26, bottom: 338, h: 440, lp: 6}, [
  lineDs('プラント処理水', pts(treatedFirst).concat(sampled(treatedStart, 0.25, treatedCd)), '#00B8F0',
    {pointStyle: 'triangle', pointRadius: 3, borderWidth: 4, order: 1}),
  lineDs('調整池放流水', sampled(outflowStart, 0.5, outflowCd), '#FF9900',
    {pointStyle: 'star', pointRadius: 3, pointBorderWidth: 1.5, borderWidth: 5, order: 2,
     segment: {borderWidth: c => c.p0.parsed.x >= 40.5 ? 1.5 : 5}})
], {offsetY: 566, x: 1070, y: 603, w: 200, h: 77, x1: 1104, x2: 1141, tx: 1144,
   items: [{ds: 0, label: 'プラント処理水', y: 624, lw: 1.5}, {ds: 1, label: '調整池放流水', y: 660, lw: 1.5}]});

cdChart('cd3', {left: 103, right: 1309, top: 24, bottom: 339, h: 440, lp: 5}, [
  lineDs('新滝ヶ洞溜池(流入口)', pts(inletCd), '#800080', {pointStyle: 'crossRot', pointRadius: 3, pointBorderWidth: 1.5, order: 1}),
  lineDs('新滝ヶ洞溜池（放流後）', pts(releaseFirst).concat(sampled(releaseStart, 0.5, releaseCd)), '#FF99CC',
    {pointStyle: 'rect', pointRadius: 2.5, borderWidth: 5, order: 2,
     segment: {borderWidth: c => c.p0.parsed.x >= 40.5 ? 1.5 : 5}})
], {offsetY: 1006, x: 1025, y: 1042, w: 245, h: 79, x1: 1053, x2: 1090, tx: 1093,
   items: [{ds: 0, label: '新滝ヶ洞溜池(流入口)', y: 1061, lw: 1.5}, {ds: 1, label: '新滝ヶ洞溜池（放流後）', y: 1100, lw: 1.5}]});

// rainfall & flow
new Chart(document.getElementById('flow'), {
  type: 'bar',
  data: {datasets: [
    {type: 'bar', label: '降水量(大平)', data: pts(rainMm), backgroundColor: '#00FFFF', borderWidth: 0,
      barThickness: 1.8, grouped: false, yAxisID: 'y', order: 3},
    {type: 'line', label: 'コルゲート東流量', data: pts(eastFlow), borderColor: '#FF00FF', borderWidth: 2.6,
      pointRadius: 0, yAxisID: 'y2', order: 2, tension: 0},
    {type: 'line', label: 'コルゲート西流量', data: pts(westFlow), borderColor: '#0000FF', borderWidth: 2.6,
      pointRadius: 0, yAxisID: 'y2', order: 1, tension: 0}
  ]},
  options: {
    responsive: false, animation: false, events: [],
    layout: {padding: {left: 0, right: 0, top: 17, bottom: 0}},
    plugins: {legend: {display: false}, tooltip: {enabled: false},
      boxLegend: {offsetY: 1446, x: 370, y: 1506, w: 176, h: 72, x1: 387, x2: 421, tx: 426,
        items: [{ds: 0, label: '降水量(大平)', y: 1519}, {ds: 1, label: 'コルゲート東流量', y: 1542, lw: 3},
                {ds: 2, label: 'コルゲート西流量', y: 1567, lw: 3}]}},
    scales: {
      x: {type: 'linear', min: 0, max: 71.8, offset: false,
        afterFit: s => { s.height = 340 - 258; },
        border: {color: '#000', width: 2},
        grid: {color: '#151515', lineWidth: 1.3, tickLength: 4, offset: false},
        ticks: {stepSize: 1, autoSkip: false, minRotation: 90, maxRotation: 90, padding: 5,
          font: {size: 12}, callback: v => (Number.isInteger(v) && flowDates[v]) ? flowDates[v] : ''}},
      y: {position: 'left', min: 0, max: 400,
        afterFit: s => { s.width = 97; },
        border: {color: '#000', width: 2},
        grid: {color: '#151515', lineWidth: 1.3, tickLength: 4},
        ticks: {stepSize: 50, padding: 9, font: {size: 14}, callback: v => String(v)}},
      y2: {position: 'right', min: 0, max: 2500,
        afterFit: s => { s.width = 1421 - 1323; },
        border: {color: '#000', width: 2},
        grid: {drawOnChartArea: false, color: '#000', tickLength: 5},
        ticks: {stepSize: 500, padding: 9, font: {size: 14}, callback: v => String(v)}}
    }
  }
});

// event lines spanning all panels, placed from the date axis of the top panel
(function drawEvents() {
  const xs = chart1.scales.x;
  const g = document.getElementById('marks');
  const NS = 'http://www.w3.org/2000/svg';
  const add = (tag, attrs) => { const e = document.createElementNS(NS, tag); for (const k in attrs) e.setAttribute(k, attrs[k]); g.appendChild(e); };
  const events = [
    {t: eventFudo, y0: 141, y1: 1774, len: 34, head: 8, hw: 4, w: 1.3},
    {t: eventPlant, y0: 145, y1: 1762, len: 29, head: 8, hw: 4, w: 1.8},
    {t: eventBypass, y0: 68, y1: 1760, len: 54, head: 13, hw: 7, w: 1.8}
  ];
  events.forEach(ev => {
    const x = Math.round(xs.getPixelForValue(ev.t)) + 0.5;
    add('line', {x1: x, y1: ev.y0, x2: x, y2: ev.y1, stroke: '#000', 'stroke-width': ev.w});
    add('line', {x1: x, y1: ev.y0, x2: x + ev.len, y2: ev.y0, stroke: '#000', 'stroke-width': ev.w});
    add('polygon', {points: `${x + ev.len},${ev.y0 - ev.hw} ${x + ev.len + ev.head},${ev.y0} ${x + ev.len},${ev.y0 + ev.hw}`, fill: '#000'});
  });
})();
</script>
</body>
</html>
